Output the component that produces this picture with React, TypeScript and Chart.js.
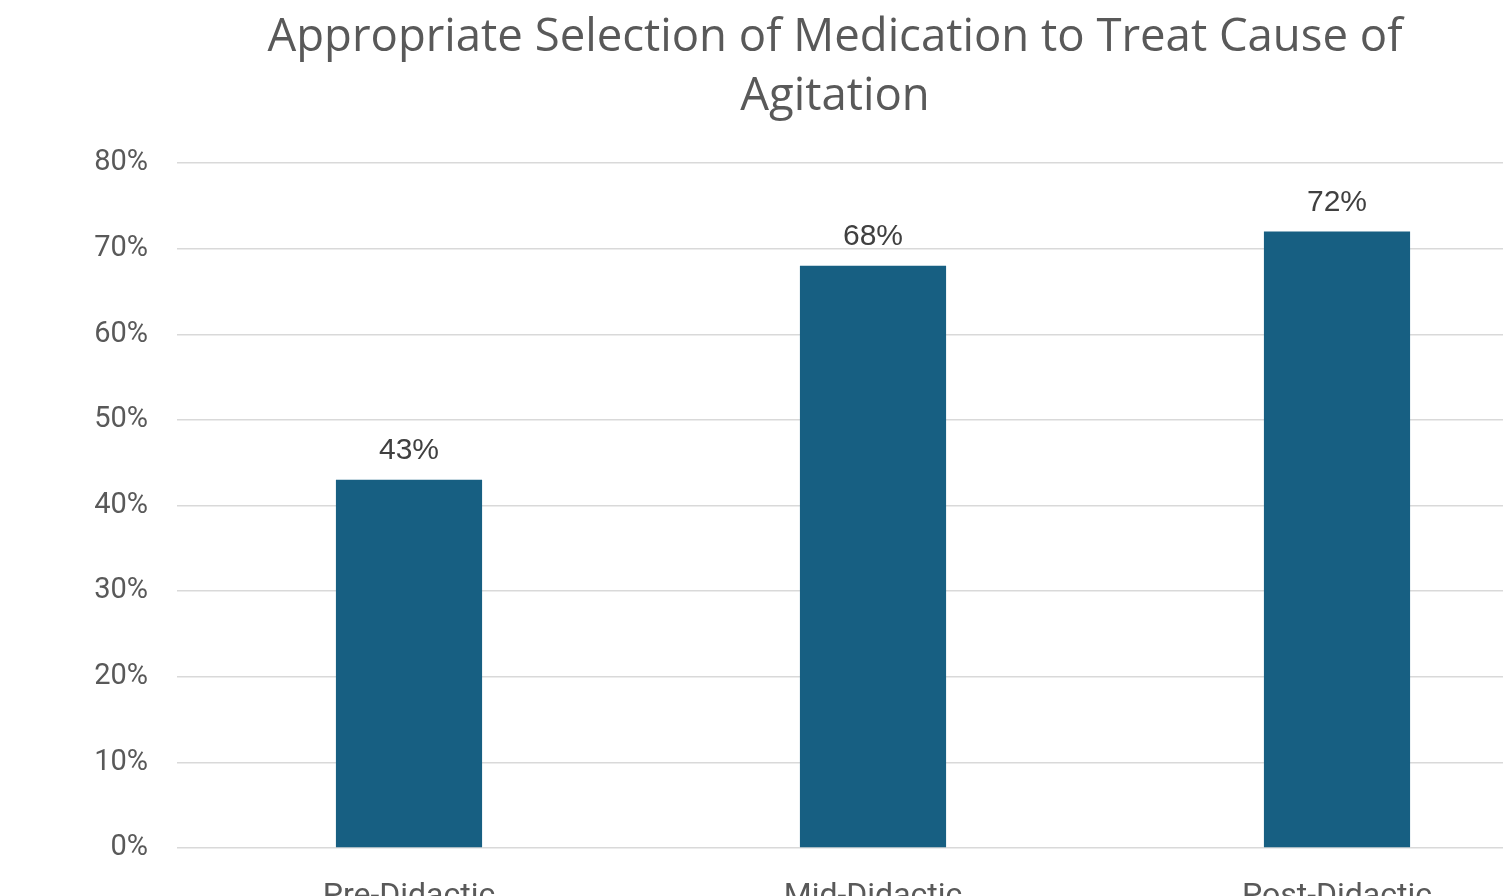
import React, { useEffect, useRef } from "react";
import { Chart, registerables } from "chart.js";

Chart.register(...registerables);

const categories = ["Pre-Didactic", "Mid-Didactic", "Post-Didactic"];
const values = [43, 68, 72];
const yTicks = [0, 10, 20, 30, 40, 50, 60, 70, 80];
const titleLines = ["Appropriate Selection of Medication to Treat Cause of", "Agitation"];

const CW = 1670;
const CH = 930;

const titlePlugin = {
  id: "customTitle",
  afterDraw(chart: any) {
    const ctx = chart.ctx;
    ctx.save();
    ctx.fillStyle = "#595959";
    ctx.font = '45.5px "Open Sans"';
    ctx.textAlign = "center";
    ctx.textBaseline = "middle";
    titleLines.forEach((t, i) => ctx.fillText(t, 835, 38 + i * 59));
    ctx.restore();
  },
};

const labelPlugin = {
  id: "dataLabels",
  afterDatasetsDraw(chart: any) {
    const ctx = chart.ctx;
    const meta = chart.getDatasetMeta(0);
    ctx.save();
    ctx.fillStyle = "#404040";
    ctx.font = '30px "Liberation Sans"';
    ctx.textAlign = "center";
    ctx.textBaseline = "middle";
    meta.data.forEach((bar: any, i: number) => {
      ctx.fillText(values[i] + "%", bar.x, bar.y - 29);
    });
    ctx.restore();
  },
};

export default function App() {
  const ref = useRef<HTMLCanvasElement | null>(null);
  useEffect(() => {
    document.body.style.margin = "0";
    document.body.style.overflow = "hidden";
    const chart = new Chart(ref.current!, {
      type: "bar",
      data: {
        labels: categories,
        datasets: [
          {
            data: values,
            backgroundColor: "#175f82",
            barPercentage: 0.315,
            categoryPercentage: 1,
          },
        ],
      },
      options: {
        responsive: false,
        animation: false,
        devicePixelRatio: 1,
        layout: { padding: { top: 163, right: 101, left: 0, bottom: 0 } },
        plugins: { legend: { display: false }, title: { display: false }, tooltip: { enabled: false } },
        scales: {
          x: {
            grid: { display: false },
            border: { display: false },
            ticks: { color: "#595959", font: { family: "Roboto", size: 32 }, padding: 22 },
            afterFit(scale: any) {
              scale.height = CH - 848;
            },
          },
          y: {
            min: 0,
            max: 80,
            afterBuildTicks(scale: any) {
              scale.ticks = yTicks.map((v) => ({ value: v }));
            },
            grid: { color: "#d9d9d9", lineWidth: 1.5, drawTicks: false },
            border: { display: false },
            ticks: {
              color: "#595959",
              font: { family: "Roboto", size: 29 },
              padding: 29,
              callback: (v: any) => v + "%",
            },
            afterFit(scale: any) {
              scale.width = 177;
            },
          },
        },
      },
      plugins: [titlePlugin, labelPlugin],
    });
    return () => chart.destroy();
  }, []);
  return (
    <div style={{ position: "fixed", left: 0, top: 0, width: 1503, height: 896, overflow: "hidden", background: "#fff" }}>
      <canvas ref={ref} width={CW} height={CH} style={{ display: "block" }} />
    </div>
  );
}
